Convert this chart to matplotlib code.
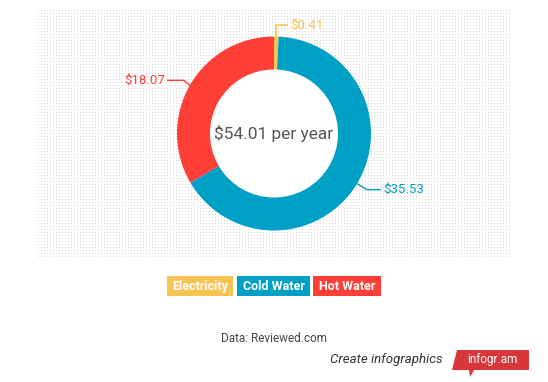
import numpy as np
import matplotlib
matplotlib.use("Agg")
import matplotlib.pyplot as plt
from matplotlib.patches import Rectangle, Polygon

categories = ["Electricity", "Cold Water", "Hot Water"]
values = [0.41, 35.53, 18.07]
labels = ["$0.41", "$35.53", "$18.07"]
colors = ["#f7c453", "#00a0c6", "#fd3f38"]
center_text = "$54.01 per year"
source = "Data: Reviewed.com"

FONT = ["Roboto", "DejaVu Sans"]
W, H = 548, 382
fig = plt.figure(figsize=(W / 100, H / 100), dpi=100)
fig.patch.set_facecolor("white")

# background axes (pixel coordinates) with fine dot pattern
bgax = fig.add_axes([0, 0, 1, 1])
bgax.set_xlim(0, W)
bgax.set_ylim(H, 0)
bgax.axis("off")
bgax.set_zorder(0)
bw, bh = 472, 248
pattern = np.ones((bh, bw, 3))
pattern[::3, ::3] = 0.84
bgax.imshow(pattern, extent=(38, 38 + bw, 10 + bh, 10), interpolation="nearest",
            aspect="auto")
bgax.set_xlim(0, W)
bgax.set_ylim(H, 0)

# donut
cx, cy, R = 274, 133.5, 97
pax = fig.add_axes([(cx - R) / W, (H - cy - R) / H, 2 * R / W, 2 * R / H])
pax.set_zorder(2)
pax.patch.set_alpha(0)
wedges, _ = pax.pie(values, colors=colors, startangle=90, counterclock=False,
                    radius=1, wedgeprops=dict(width=0.34, edgecolor="none"))
pax.add_patch(plt.Circle((0, 0), 0.66, color="white", zorder=0.5))
pax.set_xlim(-1, 1)
pax.set_ylim(-1, 1)
pax.set_aspect("equal")
pax.axis("off")
pax.text(0, 0, center_text, ha="center", va="center", fontsize=12.5,
         color="#555555", family=FONT)

# overlay axes for labels
ov = fig.add_axes([0, 0, 1, 1])
ov.set_xlim(0, W)
ov.set_ylim(H, 0)
ov.axis("off")
ov.set_zorder(3)
ov.patch.set_alpha(0)
for w, lab, col in zip(wedges, labels, colors):
    mid = np.deg2rad((w.theta1 + w.theta2) / 2)
    px, py = cx + R * np.cos(mid), cy - R * np.sin(mid)
    if np.sin(mid) > 0.9:  # top label
        ov.plot([px, px, px + 11], [py, 25, 25], color=col, lw=1.2)
        ov.text(px + 14, 25, lab, color=col, fontsize=9.5, va="center",
                ha="left", family=FONT)
    elif np.cos(mid) < 0:
        ty = py - 5
        ov.plot([px, px - 6, px - 22], [py, ty, ty], color=col, lw=1)
        ov.text(px - 25, ty, lab, color=col, fontsize=9.5, va="center",
                ha="right", family=FONT)
    else:
        ty = py + 6
        ov.plot([px, px + 10, px + 23], [py, ty, ty], color=col, lw=1)
        ov.text(px + 26, ty, lab, color=col, fontsize=9.5, va="center",
                ha="left", family=FONT)

# legend boxes
lx = [167, 237, 313]
lw_ = [66, 73, 68]
for x0, w0, cat, col in zip(lx, lw_, categories, colors):
    ov.add_patch(Rectangle((x0, 276), w0, 20, facecolor=col, edgecolor="none"))
    ov.text(x0 + w0 / 2, 286.5, cat, color="white", fontsize=9, weight="bold",
            ha="center", va="center", family=FONT)

# source
ov.text(274, 339, source, color="#444444", fontsize=8.5, ha="center",
        va="center", family=FONT)
ov.text(443, 360, "Create infographics", color="#333333", fontsize=9.5,
        style="italic", ha="right", va="center", family=FONT)
ov.add_patch(Polygon([[457, 350], [529, 350], [529, 370], [474, 370],
                      [470, 377], [469, 370], [452, 370]],
                     closed=True, facecolor="#d9363a", edgecolor="none"))
ov.text(492, 360, "infogr.am", color="white", fontsize=8.5, ha="center",
        va="center", family=FONT)

fig.savefig("out.png", dpi=100)
